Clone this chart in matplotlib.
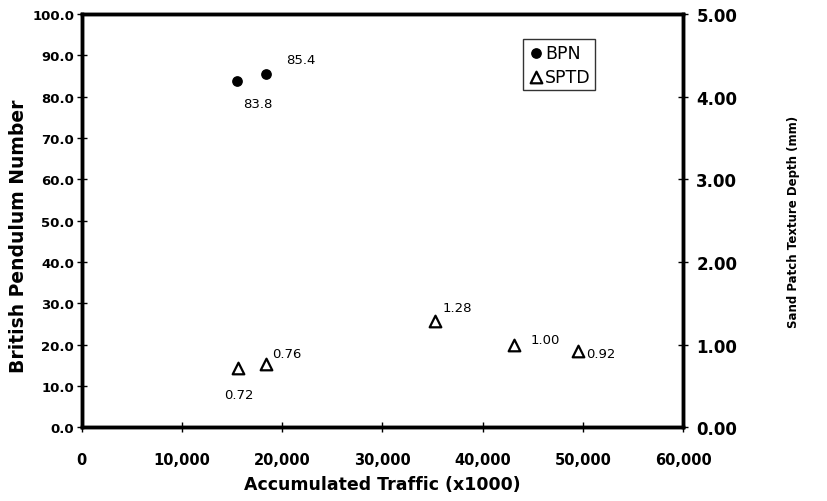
import numpy as np
import matplotlib
matplotlib.use("Agg")
import matplotlib.pyplot as plt

plt.rcParams["font.family"] = ["DejaVu Sans"]

# British Pendulum Number readings
bpn_traffic = [15500, 18400]
bpn_values = [83.8, 85.4]

# Sand patch texture depth (mm)
sptd_traffic = [15600, 18400, 35200, 43100, 49500]
sptd_values = [0.72, 0.76, 1.28, 1.00, 0.92]

x_ticks = [0, 10000, 20000, 30000, 40000, 50000, 60000]
bpn_ticks = np.arange(0, 101, 10)
sptd_ticks = np.arange(0, 5.01, 1.0)

fig = plt.figure(figsize=(8.27, 5.02), dpi=100)
ax = fig.add_axes([0.099, 0.147, 0.727, 0.823])
ax2 = ax.twinx()

ax.scatter(bpn_traffic, bpn_values, s=45, color="black", zorder=3, label="BPN")
ax2.scatter(sptd_traffic, sptd_values, s=70, marker="^", facecolor="white",
            edgecolor="black", linewidths=1.6, zorder=3, label="SPTD")

# value labels
bpn_offsets = [(4, -16), (14, 11)]
for x, y, off in zip(bpn_traffic, bpn_values, bpn_offsets):
    ax.annotate(f"{y:.1f}", (x, y), xytext=off, textcoords="offset points",
                fontsize=9.5, ha="left", va="center")

sptd_offsets = [(-10, -19), (4, 8), (6, 10), (12, 4), (6, -2)]
for x, y, off in zip(sptd_traffic, sptd_values, sptd_offsets):
    ax2.annotate(f"{y:.2f}", (x, y), xytext=off, textcoords="offset points",
                 fontsize=9.5, ha="left", va="center")

ax.set_xlim(0, 60000)
ax.set_ylim(0, 100)
ax2.set_ylim(0, 5)
ax.set_xticks(x_ticks)
ax.set_xticklabels([f"{t:,}" for t in x_ticks], fontweight="bold", fontsize=10.5)
ax.set_yticks(bpn_ticks)
ax.set_yticklabels([f"{t:.1f}" for t in bpn_ticks], fontweight="bold", fontsize=9.5)
ax2.set_yticks(sptd_ticks)
ax2.set_yticklabels([f"{t:.2f}" for t in sptd_ticks], fontweight="bold", fontsize=12)

for a in (ax, ax2):
    for sp in a.spines.values():
        sp.set_linewidth(2.5)
    a.tick_params(direction="inout", length=7, width=1)
ax.tick_params(axis="x", pad=14)
ax.tick_params(axis="y", pad=2)
ax2.tick_params(axis="y", pad=6)

ax.set_xlabel("Accumulated Traffic (x1000)", fontsize=12.5, fontweight="bold", labelpad=6)
ax.set_ylabel("British Pendulum Number", fontsize=13.5, fontweight="bold")
ax.yaxis.set_label_coords(-0.09, 0.465)
ax2.set_ylabel("Sand Patch Texture Depth (mm)", fontsize=8.5, fontweight="bold", labelpad=36)

h1, l1 = ax.get_legend_handles_labels()
h2, l2 = ax2.get_legend_handles_labels()
leg = ax2.legend(h1 + h2, l1 + l2, loc="upper left", bbox_to_anchor=(0.72, 0.96),
                 frameon=True, fancybox=False, edgecolor="black", fontsize=12.5,
                 handletextpad=0.0, borderpad=0.25, labelspacing=0.35, handlelength=1.0,
                 scatterpoints=1)
leg.get_frame().set_linewidth(1.0)

fig.savefig("out.png", dpi=100)
